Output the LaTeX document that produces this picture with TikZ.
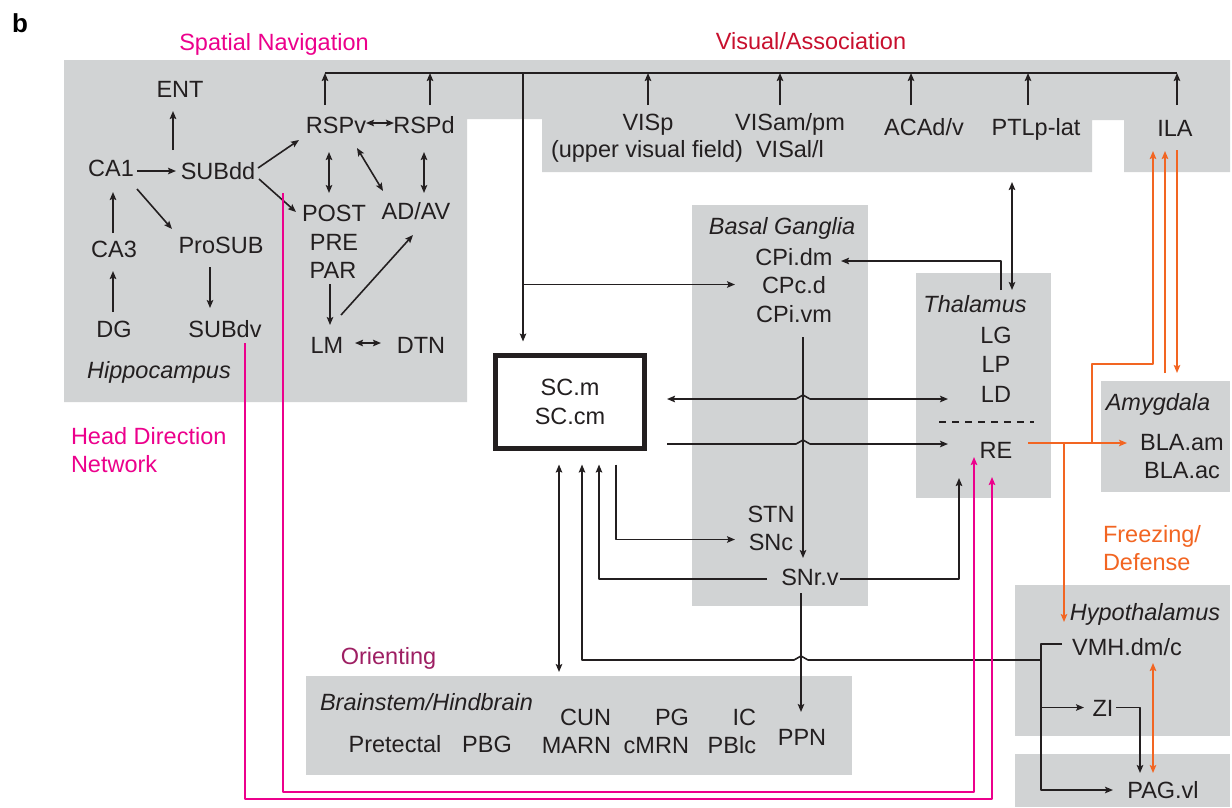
\documentclass[tikz,border=0pt]{standalone}
\usepackage{fontspec}
\setmainfont{Liberation Sans}
\usetikzlibrary{arrows.meta,calc}
\definecolor{gry}{RGB}{209,211,212}
\definecolor{mag}{RGB}{236,0,140}
\definecolor{vred}{RGB}{200,16,46}
\definecolor{org}{RGB}{242,101,34}
\definecolor{ori}{RGB}{158,31,99}
\definecolor{ink}{RGB}{35,31,32}
\tikzset{
  lbl/.style={font=\fontsize{23.5}{28}\selectfont, inner sep=0pt, outer sep=0pt, text height=17pt, text depth=0pt, text=ink},
  ital/.style={lbl, font=\fontsize{23.5}{28}\selectfont\itshape},
  lblm/.style={font=\fontsize{23.5}{28}\selectfont, inner sep=0pt, outer sep=0pt, align=left, anchor=north west},
  region/.style={fill=gry, draw=none, inner sep=0pt, outer sep=0pt, anchor=north west},
  tip/.tip={Stealth[length=8pt,width=6.5pt,inset=1.5pt]},
  wire/.style={draw=ink, line width=1.6pt, line join=round},
  arr/.style={wire, -tip},
  darr/.style={wire, tip-tip},
  owire/.style={draw=org, line width=1.8pt, line join=round},
  oarr/.style={owire, -tip},
  odarr/.style={owire, tip-tip},
  marr/.style={draw=mag, line width=2pt, line join=round, -tip},
}
\begin{document}
\begin{tikzpicture}[x=1pt, y=-1pt]
\useasboundingbox (0,0) rectangle (1232,807);
\fill[white] (0,0) rectangle (1232,807);

% ---------- grey regions ----------
\fill[gry] (64,60) -- (1230,60) -- (1230,172) -- (1124,172) -- (1124,120) -- (1092,120)
  -- (1092,172) -- (542,172) -- (542,119) -- (467,119) -- (467,402) -- (64,402) -- cycle;
\node[region, minimum width=176pt, minimum height=401pt] (BG) at (692,205) {};
\node[region, minimum width=135pt, minimum height=225pt] (TH) at (916,273) {};
\node[region, minimum width=129pt, minimum height=111pt] (AM) at (1101,381) {};
\node[region, minimum width=215pt, minimum height=151pt] (HY) at (1015,585) {};
\node[region, minimum width=215pt, minimum height=53pt] (PGb) at (1015,754) {};
\node[region, minimum width=546pt, minimum height=99pt] (BS) at (306,676) {};

% ---------- titles ----------
\node[lbl, font=\fontsize{26}{28}\selectfont\bfseries, text=black] (lb) at (20,23.5) {b};
\node[lbl, text=mag] (tSN) at (274,41.5) {Spatial Navigation};
\node[lbl, text=vred] (tVA) at (811,41) {Visual/Association};
\node[lblm, text=mag] (tHD) at (71,427) {Head Direction\\Network};
\node[lbl, text=ori] (tOr) at (388.5,656) {Orienting};
\node[lblm, text=org] (tFD) at (1103,525) {Freezing/\\Defense};

% ---------- hippocampus ----------
\node[lbl] (ENT) at (180,88.5) {ENT};
\node[lbl] (CA1) at (111,168) {CA1};
\node[lbl] (SUBdd) at (218,171) {SUBdd};
\node[lbl] (CA3) at (114,249) {CA3};
\node[lbl] (ProSUB) at (221,245) {ProSUB};
\node[lbl] (DG) at (114,329) {DG};
\node[lbl] (SUBdv) at (225,329) {SUBdv};
\node[ital] (Hip) at (159,369.5) {Hippocampus};
\node[lbl] (RSPv) at (336,125) {RSPv};
\node[lbl] (RSPd) at (424,125) {RSPd};
\node[lbl] (POST) at (334,213) {POST};
\node[lbl] (PRE) at (334,241.5) {PRE};
\node[lbl] (PAR) at (333,270) {PAR};
\node[lbl] (ADAV) at (416,211) {AD/AV};
\node[lbl] (LM) at (327,345) {LM};
\node[lbl] (DTN) at (421,345) {DTN};

% ---------- visual / association ----------
\node[lbl] (VISp) at (648,121.5) {VISp};
\node[lbl] (uvf) at (647,148.5) {(upper visual field)};
\node[lbl] (VISam) at (790,121.5) {VISam/pm};
\node[lbl] (VISal) at (790,148.5) {VISal/l};
\node[lbl] (ACA) at (924,126.5) {ACAd/v};
\node[lbl] (PTLp) at (1036,126.5) {PTLp-lat};
\node[lbl] (ILA) at (1175,128) {ILA};

% ---------- basal ganglia ----------
\node[ital] (BGt) at (782,225.5) {Basal Ganglia};
\node[lbl] (CPidm) at (794,257) {CPi.dm};
\node[lbl] (CPcd) at (794,284.5) {CPc.d};
\node[lbl] (CPivm) at (794,313.5) {CPi.vm};
\node[lbl] (STN) at (771,513.5) {STN};
\node[lbl] (SNc) at (771,541.5) {SNc};
\node[lbl] (SNrv) at (810,576.5) {SNr.v};

% ---------- superior colliculus ----------
\node[draw=ink, line width=5pt, minimum width=149pt, minimum height=93pt, inner sep=0pt,
      align=center, font=\fontsize{23.5}{28.5}\selectfont, text=ink] (SC) at (570,402) {SC.m\\SC.cm};

% ---------- thalamus ----------
\node[ital] (Thal) at (975,303.5) {Thalamus};
\node[lbl] (LG) at (996,335) {LG};
\node[lbl] (LP) at (996,364) {LP};
\node[lbl] (LD) at (996,393.5) {LD};
\node[lbl] (RE) at (996,450) {RE};
\draw[draw=ink, line width=1.5pt, dash pattern=on 7pt off 6pt] (939,422) -- (1034,422);

% ---------- amygdala ----------
\node[ital] (Amyt) at (1158,401.5) {Amygdala};
\node[lbl] (BLAam) at (1182,441.5) {BLA.am};
\node[lbl] (BLAac) at (1182,470) {BLA.ac};

% ---------- hypothalamus / PAG ----------
\node[ital] (Hypt) at (1145,611.5) {Hypothalamus};
\node[lbl] (VMH) at (1127,646.5) {VMH.dm/c};
\node[lbl] (ZI) at (1103,707.5) {ZI};
\node[lbl] (PAG) at (1163,790) {PAG.vl};

% ---------- brainstem ----------
\node[ital, anchor=west] (BSt) at (320,701.5) {Brainstem/Hindbrain};
\node[lbl] (Pret) at (395,744) {Pretectal};
\node[lbl] (PBG) at (487,744) {PBG};
\node[lbl, anchor=east] (CUN) at (611,716.5) {CUN};
\node[lbl, anchor=east] (MARN) at (611,745) {MARN};
\node[lbl, anchor=east] (PG) at (689,716.5) {PG};
\node[lbl, anchor=east] (cMRN) at (689,745) {cMRN};
\node[lbl, anchor=east] (IC) at (756,716.5) {IC};
\node[lbl, anchor=east] (PBlc) at (756,745) {PBlc};
\node[lbl] (PPN) at (802,736.5) {PPN};

% ---------- hippocampal connectors ----------
\draw[arr] ($(SUBdd)+(-45,-21)$) -- ($(ENT)+(-7,22.5)$);
\draw[arr] ($(CA1)+(26,3)$) -- ($(SUBdd)+(-42,0)$);
\draw[arr] ($(CA3)+(-1,-16)$) -- ($(CA1)+(2,24)$);
\draw[arr] ($(DG)+(-1,-17)$) -- ($(CA3)+(-1,22)$);
\draw[arr] ($(CA1)+(26,21)$) -- ($(ProSUB)+(-49,-16)$);
\draw[arr] ($(ProSUB)+(-11,22)$) -- ($(SUBdv)+(-15,-21)$);
\draw[arr] ($(SUBdd)+(40,-3)$) -- ($(RSPv)+(-37,15)$);
\draw[arr] ($(SUBdd)+(41,8)$) -- ($(POST)+(-38,-1)$);
\draw[darr] ($(RSPv)+(30,-2)$) -- ($(RSPd)+(-30,-2)$);
\draw[darr] ($(RSPv)+(-7,27)$) -- ($(POST)+(-5,-20)$);
\draw[darr] ($(RSPv)+(21,23)$) -- ($(ADAV)+(-33,-20)$);
\draw[darr] ($(RSPd)+(0,27)$) -- ($(ADAV)+(8,-18)$);
\draw[arr] ($(PAR)+(-3,14)$) -- ($(LM)+(3,-20)$);
\draw[arr] ($(LM)+(14,-30)$) -- ($(ADAV)+(-3,24)$);
\draw[darr] ($(LM)+(28,-2)$) -- ($(DTN)+(-40,-2)$);

% ---------- cortical bus to SC ----------
\coordinate (busL) at ($(RSPv)+(-11,-52)$);
\coordinate (busR) at ($(ILA)+(2,-55)$);
\draw[wire] (busL) -- (busR);
\draw[arr] ($(RSPv)+(-11,-20)$) -- ++(0,-32);
\draw[arr] ($(RSPd)+(6,-20)$) -- ++(0,-32);
\draw[arr] ($(VISp)+(0,-16.5)$) -- ++(0,-32);
\draw[arr] ($(VISam)+(-10,-16.5)$) -- ++(0,-32);
\draw[arr] ($(ACA)+(-13,-21.5)$) -- ++(0,-32);
\draw[arr] ($(PTLp)+(-8,-21.5)$) -- ++(0,-32);
\draw[arr] ($(ILA)+(2,-23)$) -- ++(0,-32);
\coordinate (busSC) at ($(busL)+(198,0)$);
\draw[arr] (busSC) -- ($(SC.north -| busSC)+(0,-11.5)$);
\draw[arr] (busSC |- CPcd) -- ($(CPcd)+(-59,0)$);

% ---------- basal ganglia / thalamus connectors ----------
\draw[arr] ($(Thal)+(26,-13.5)$) |- ($(CPidm)+(47,4)$);
\draw[darr] ($(PTLp)+(-24,55.5)$) -- ($(Thal)+(37,-13.5)$);
\draw[arr] ($(CPivm)+(9,23.5)$) -- ($(SNrv)+(-7,-18.5)$);
\coordinate (jx) at ($(CPivm)+(9,0)$);
\draw[darr] ($(SC.east)+(20,-3)$) -- ($(jx |- SC.east)+(-7,-3)$) -- ++(7,-4) -- ++(7,4) -- ($(LD)+(-48,5.5)$);
\draw[arr] ($(SC.east)+(20,42)$) -- ($(jx |- SC.east)+(-7,42)$) -- ++(7,-4) -- ++(7,4) -- ($(RE)+(-48,-6)$);
\draw[arr] ($(SC.south)+(46,13.5)$) |- ($(SNc)+(-36,-2)$);
\draw[arr] ($(SNrv)+(-43,2.5)$) -| ($(SC.south)+(29,13.5)$);
\draw[arr] ($(SNrv)+(30,2.5)$) -| ($(RE)+(-37,28)$);
\draw[arr] ($(SNrv)+(-9,16.5)$) -- ($(PPN)+(-1,-24.5)$);
\draw[darr] ($(SC.south)+(-11,13.5)$) -- ($(BS.north -| SC.south)+(-11,-4)$);

% ---------- hypothalamic connectors ----------
\coordinate (jx2) at ($(SNrv)+(-9,0)$);
\coordinate (vs) at ($(VMH)+(-65,-2.5)$);
\coordinate (vj) at ($(vs)+(-21,0)$);
\draw[arr] (vs) -- (vj) |- ($(PAG)+(-50,0)$);
\draw[arr] ($(vj)+(0,63.5)$) -- ($(ZI)+(-19,0)$);
\draw[arr] ($(vj)+(0,16)$) -- ($(jx2 |- vj)+(7,16)$) -- ++(-7,-4) -- ++(-7,4) -| ($(SC.south)+(12,13.5)$);
\draw[arr] ($(ZI)+(13,0)$) -| ($(PAG)+(-23,-17)$);
\draw[odarr] ($(VMH)+(26,16.5)$) -- ($(PAG)+(-10,-17)$);

% ---------- orange (freezing / defense) ----------
\draw[oarr] ($(RE)+(32,-7)$) -- ($(BLAam)+(-55,1.5)$);
\draw[oarr] ($(RE)+(68,-7)$) -- ($(VMH)+(-63,-24.5)$);
\draw[oarr] ($(RE)+(96,-7)$) -- ($(RE)+(96,-86)$) -| ($(ILA)+(-22,23)$);
\draw[oarr] ($(Amyt)+(7,-28.5)$) -- ($(ILA)+(-10,23)$);
\draw[oarr] ($(ILA)+(2,22)$) -- ($(Amyt)+(19,-28.5)$);

% ---------- magenta (head direction) ----------
\draw[marr] ($(SUBdv)+(20,14)$) -- ++(0,456) -| ($(RE)+(-4,27)$);
\draw[marr] ($(SUBdd)+(65,22)$) -- ++(0,599) -| ($(RE)+(-22,7)$);
\end{tikzpicture}
\end{document}
